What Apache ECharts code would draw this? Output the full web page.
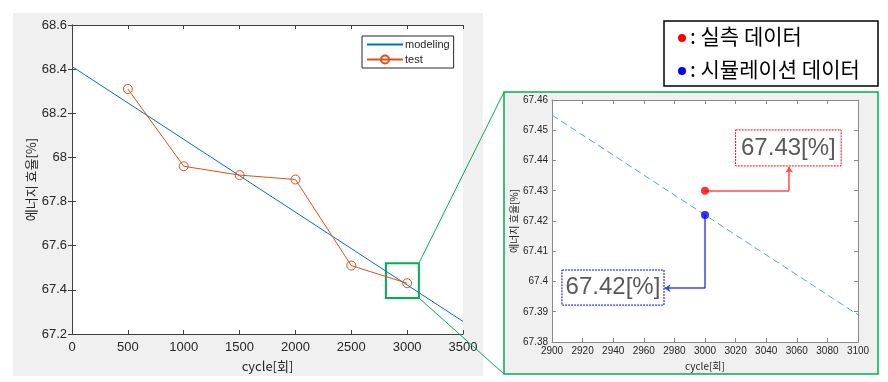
<!DOCTYPE html>
<html>
<head>
<meta charset="utf-8">
<script src="https://cdn.jsdelivr.net/npm/echarts@6/dist/echarts.min.js"></script>
<style>html,body{margin:0;padding:0;background:#fff}#c{width:888px;height:382px}</style>
</head>
<body>
<div id="c"></div>
<script>
// ---- data ----
const testCycles = [500, 1000, 1500, 2000, 2500, 3000];
const testEff = [68.31, 67.96, 67.92, 67.90, 67.51, 67.43];
const modelCycles = [0, 3500];
const modelEff = [68.412, 67.257];
const zoomCycles = [2900, 3100];
const zoomModelEff = [67.455, 67.389];
const measuredPoint = [3000, 67.43];
const simPoint = [3000, 67.422];
const measuredLabel = '67.43[%]';
const simLabel = '67.42[%]';
const leftAxisRange = { xMin: 0, xMax: 3500, xStep: 500, yMin: 67.2, yMax: 68.6, yStep: 0.2 };
const rightAxisRange = { xMin: 2900, xMax: 3100, xStep: 20, yMin: 67.38, yMax: 67.46, yStep: 0.01 };
const seriesNames = ['modeling', 'test'];
const legendTexts = [': 실측 데이터', ': 시뮬레이션 데이터'];
const yName = '에너지 효율[%]';
const xName = 'cycle[회]';
// zoom box region shown on the left chart (data coords)
const zoomBox = [[2810, 67.52], [3105, 67.363]];
// annotation anchors (data coords)
const redElbow = [3055, 67.43];
const redArrowEnd = [3055, 67.4379];
const redBox = [[3020, 67.4501], [3089, 67.4382]];
const blueElbow = [3000, 67.3978];
const blueArrowEnd = [2973.5, 67.3978];
const blueBox = [[2906.5, 67.4038], [2973.2, 67.3922]];

const FONT = '"Liberation Sans", Arial, sans-serif';
const KFONT = '"Noto Sans CJK KR", sans-serif';
const txt = '#262626';

function pair(xs, ys) { return xs.map((x, i) => [x, ys[i]]); }

function axisPair(gridIndex, r, fontSize, nameSize, gaps, borderColor) {
  const common = { gridIndex: gridIndex, type: 'value' };
  const line = { show: true, lineStyle: { color: borderColor, width: 1 } };
  const tick = { show: true, inside: true, length: 4, lineStyle: { color: borderColor } };
  const x = [
    Object.assign({}, common, {
      position: 'bottom', min: r.xMin, max: r.xMax, interval: r.xStep,
      axisLine: line, axisTick: tick, splitLine: { show: false },
      axisLabel: { color: txt, fontSize: fontSize, fontFamily: FONT, margin: gaps.xl,
        formatter: v => String(v) },
      name: xName, nameLocation: 'middle', nameGap: gaps.xn,
      nameTextStyle: { color: txt, fontSize: nameSize, fontFamily: KFONT }
    }),
    Object.assign({}, common, {
      position: 'top', min: r.xMin, max: r.xMax, interval: r.xStep,
      axisLine: line, axisTick: tick, splitLine: { show: false }, axisLabel: { show: false }
    })
  ];
  const y = [
    Object.assign({}, common, {
      position: 'left', min: r.yMin, max: r.yMax, interval: r.yStep,
      axisLine: line, axisTick: tick, splitLine: { show: false },
      axisLabel: { color: txt, fontSize: fontSize, fontFamily: FONT, margin: gaps.yl,
        formatter: v => String(+v.toFixed(2)) },
      name: yName, nameLocation: 'middle', nameGap: gaps.yn,
      nameTextStyle: { color: txt, fontSize: nameSize, fontFamily: KFONT }
    }),
    Object.assign({}, common, {
      position: 'right', min: r.yMin, max: r.yMax, interval: r.yStep,
      axisLine: line, axisTick: tick, splitLine: { show: false }, axisLabel: { show: false }
    })
  ];
  return { x, y };
}

const leftAxes = axisPair(0, leftAxisRange, 13, 13, { xl: 7, xn: 26, yl: 5, yn: 34 }, '#404040');
const rightAxes = axisPair(1, rightAxisRange, 10, 10, { xl: 4, xn: 18, yl: 4, yn: 29 }, '#8a8a8a');

const chart = echarts.init(document.getElementById('c'), null, { renderer: 'canvas' });
chart.setOption({
  animation: false,
  backgroundColor: '#fff',
  graphic: [
    { type: 'rect', z: -10, silent: true, shape: { x: 13, y: 13, width: 470, height: 363 }, style: { fill: '#f0f0f0' } },
    { type: 'rect', z: -10, silent: true, shape: { x: 504, y: 92, width: 374, height: 282 }, style: { fill: '#f0f0f0', stroke: '#00b050', lineWidth: 1.5 } },
    { type: 'line', z: 50, silent: true, shape: { x1: 419, y1: 263, x2: 504, y2: 92 }, style: { stroke: '#00b050', lineWidth: 1 } },
    { type: 'line', z: 50, silent: true, shape: { x1: 419, y1: 298, x2: 504, y2: 374 }, style: { stroke: '#00b050', lineWidth: 1 } },
    { type: 'rect', z: 50, silent: true, shape: { x: 664, y: 21, width: 214, height: 65 }, style: { fill: '#fff', stroke: '#000', lineWidth: 1.5 } },
    { type: 'circle', z: 51, silent: true, shape: { cx: 682, cy: 38, r: 4 }, style: { fill: '#ff0000' } },
    { type: 'circle', z: 51, silent: true, shape: { cx: 682, cy: 71, r: 4 }, style: { fill: '#0000ff' } },
    { type: 'text', z: 51, silent: true, style: { x: 690, y: 36, text: legendTexts[0], fill: '#000', font: '21px "Noto Sans CJK KR"', verticalAlign: 'middle' } },
    { type: 'text', z: 51, silent: true, style: { x: 690, y: 69, text: legendTexts[1], fill: '#000', font: '21px "Noto Sans CJK KR"', verticalAlign: 'middle' } }
  ],
  grid: [
    { left: 72, top: 25, width: 391, height: 309, show: true, backgroundColor: '#fff', borderWidth: 0 },
    { left: 552, top: 100, width: 306, height: 242, show: true, backgroundColor: '#fff', borderWidth: 0 }
  ],
  xAxis: [leftAxes.x[0], leftAxes.x[1], rightAxes.x[0], rightAxes.x[1]],
  yAxis: [leftAxes.y[0], leftAxes.y[1], rightAxes.y[0], rightAxes.y[1]],
  legend: {
    data: [{ name: seriesNames[0], itemStyle: { opacity: 0 } }, { name: seriesNames[1] }],
    orient: 'vertical', left: 362, top: 36,
    backgroundColor: '#fff', borderColor: '#262626', borderWidth: 1,
    padding: [3, 4, 3, 4], itemGap: 4, itemWidth: 36, itemHeight: 10,
    textStyle: { color: txt, fontSize: 11, fontFamily: FONT, padding: [0, 0, 0, -3] }
  },
  series: [
    {
      name: seriesNames[0], type: 'line', xAxisIndex: 0, yAxisIndex: 0,
      data: pair(modelCycles, modelEff), symbol: 'none', z: 2,
      lineStyle: { color: '#0072BD', width: 1 }, itemStyle: { color: '#0072BD' }
    },
    {
      name: seriesNames[1], type: 'line', xAxisIndex: 0, yAxisIndex: 0,
      data: pair(testCycles, testEff), symbol: 'circle', symbolSize: 9, z: 3,
      lineStyle: { color: '#D95319', width: 1 },
      itemStyle: { color: 'rgba(255,255,255,0)', borderColor: '#D95319', borderWidth: 1 },
      markArea: {
        silent: true,
        itemStyle: { color: 'rgba(0,0,0,0)', borderColor: '#00b050', borderWidth: 2 },
        data: [[{ coord: zoomBox[0] }, { coord: zoomBox[1] }]]
      }
    },
    {
      name: 'zoomModel', type: 'line', xAxisIndex: 2, yAxisIndex: 2,
      data: pair(zoomCycles, zoomModelEff), symbol: 'none', z: 2,
      lineStyle: { color: '#4DA6E8', width: 1, type: [7, 4] }
    },
    {
      name: 'measured', type: 'scatter', xAxisIndex: 2, yAxisIndex: 2,
      data: [measuredPoint], symbolSize: 8, z: 5, itemStyle: { color: '#ff0000' },
      markLine: {
        silent: true, animation: false,
        lineStyle: { color: '#ff4d4d', width: 1.5, type: 'solid' },
        label: { show: false },
        data: [
          [{ coord: measuredPoint, symbol: 'none' }, { coord: redElbow, symbol: 'none' }],
          [{ coord: redElbow, symbol: 'none' }, { coord: redArrowEnd, symbol: 'arrow', symbolSize: 6 }]
        ]
      },
      markArea: {
        silent: true,
        itemStyle: { color: '#fff', borderColor: '#ff0000', borderWidth: 1, borderType: [2, 1] },
        label: { show: true, position: 'inside', formatter: measuredLabel, fontSize: 24, color: '#595959', fontFamily: FONT },
        data: [[{ coord: redBox[0] }, { coord: redBox[1] }]]
      }
    },
    {
      name: 'simulated', type: 'scatter', xAxisIndex: 2, yAxisIndex: 2,
      data: [simPoint], symbolSize: 8, z: 5, itemStyle: { color: '#0000ff' },
      markLine: {
        silent: true, animation: false,
        lineStyle: { color: '#4040ff', width: 1.5, type: 'solid' },
        label: { show: false },
        data: [
          [{ coord: simPoint, symbol: 'none' }, { coord: blueElbow, symbol: 'none' }],
          [{ coord: blueElbow, symbol: 'none' }, { coord: blueArrowEnd, symbol: 'arrow', symbolSize: 6 }]
        ]
      },
      markArea: {
        silent: true,
        itemStyle: { color: '#fff', borderColor: '#0000ff', borderWidth: 1, borderType: [2, 1] },
        label: { show: true, position: 'inside', formatter: simLabel, fontSize: 24, color: '#595959', fontFamily: FONT },
        data: [[{ coord: blueBox[0] }, { coord: blueBox[1] }]]
      }
    }
  ]
});
</script>
</body>
</html>
